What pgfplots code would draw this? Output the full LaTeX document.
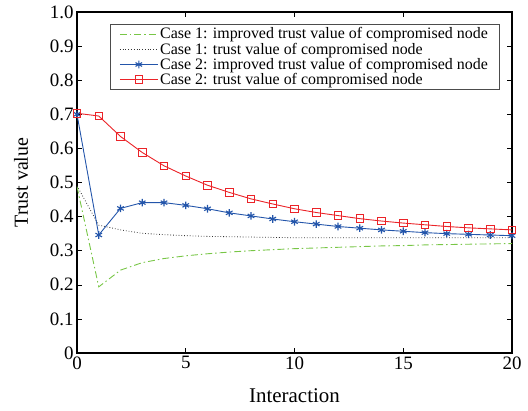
\documentclass[border=0pt]{standalone}
\usepackage{fontspec}
\setmainfont{Liberation Serif}
\usepackage{pgfplots}
\pgfplotsset{compat=1.18}

\definecolor{cgreen}{RGB}{120,198,70}
\definecolor{cblue}{RGB}{35,85,170}
\definecolor{cred}{RGB}{235,35,40}

\begin{document}
\begin{tikzpicture}
\useasboundingbox (-77bp,-58bp) rectangle (451bp,353bp);
\begin{axis}[
  scale only axis,
  width=435bp, height=341bp,
  xmin=0, xmax=20, ymin=0, ymax=1,
  xtick={0,5,10,15,20},
  ytick={0,0.1,0.2,0.3,0.4,0.5,0.6,0.7,0.8,0.9,1.0},
  yticklabels={0,0.1,0.2,0.3,0.4,0.5,0.6,0.7,0.8,0.9,1.0},
  tick align=inside,
  tick pos=both,
  major tick length=5bp,
  axis line style={line width=1.1pt},
  tick style={line width=0.6pt,black},
  /pgf/number format/assume math mode=true,
  tick label style={font=\fontsize{19}{21}\selectfont},
  xlabel={Interaction},
  ylabel={Trust value},
  xlabel style={font=\fontsize{21}{23}\selectfont, at={(rel axis cs:0.5,0)}, anchor=center, yshift=-43bp},
  ylabel style={font=\fontsize{20}{22}\selectfont, at={(rel axis cs:0,0.5)}, anchor=center, yshift=56bp},
  legend style={at={(0.076,0.965)},anchor=north west,
    font=\fontsize{16}{18}\selectfont,
    draw=black!70, line width=0.6pt, inner xsep=9bp, inner ysep=1.5pt, row sep=-1.5pt,
    cells={anchor=west}},
  legend cell align=left,
  legend image code/.code={\draw[mark repeat=2,mark phase=2,#1]
    plot coordinates {(0bp,0bp) (19bp,0bp) (38bp,0bp)};},
]
\addplot[cgreen, line width=0.9pt, dash pattern=on 7pt off 3pt on 1.5pt off 3pt] coordinates {
(0,0.488) (1,0.194) (2,0.243) (3,0.265) (4,0.277) (5,0.285) (6,0.291) (7,0.296)
(8,0.300) (9,0.303) (10,0.306) (11,0.308) (12,0.310) (13,0.312) (14,0.314)
(15,0.315) (16,0.317) (17,0.318) (18,0.319) (19,0.320) (20,0.321)};
\addlegendentry{Case 1: improved trust value of compromised node}
\addplot[black!80, line width=0.8pt, dotted] coordinates {
(0,0.49) (1,0.375) (2,0.361) (3,0.351) (4,0.347) (5,0.344) (6,0.342) (7,0.341)
(8,0.340) (9,0.339) (10,0.338) (11,0.338) (12,0.338) (13,0.338) (14,0.338)
(15,0.338) (16,0.338) (17,0.338) (18,0.338) (19,0.338) (20,0.338)};
\addlegendentry{Case 1: trust value of compromised node}
\addplot[cblue, line width=0.9pt, mark=asterisk, mark size=3.8pt, mark options={line width=1.1pt}] coordinates {
(0,0.700) (1,0.346) (2,0.424) (3,0.441) (4,0.441) (5,0.433) (6,0.423) (7,0.411)
(8,0.402) (9,0.393) (10,0.385) (11,0.378) (12,0.371) (13,0.366) (14,0.361)
(15,0.357) (16,0.353) (17,0.350) (18,0.348) (19,0.346) (20,0.344)};
\addlegendentry{Case 2: improved trust value of compromised node}
\addplot[cred, line width=0.9pt, mark=square, mark size=3.8pt, mark options={line width=0.9pt}] coordinates {
(0,0.703) (1,0.695) (2,0.635) (3,0.588) (4,0.549) (5,0.519) (6,0.492) (7,0.471)
(8,0.452) (9,0.437) (10,0.423) (11,0.412) (12,0.403) (13,0.394) (14,0.387)
(15,0.381) (16,0.376) (17,0.371) (18,0.367) (19,0.364) (20,0.361)};
\addlegendentry{Case 2: trust value of compromised node}
\end{axis}
\end{tikzpicture}
\end{document}
